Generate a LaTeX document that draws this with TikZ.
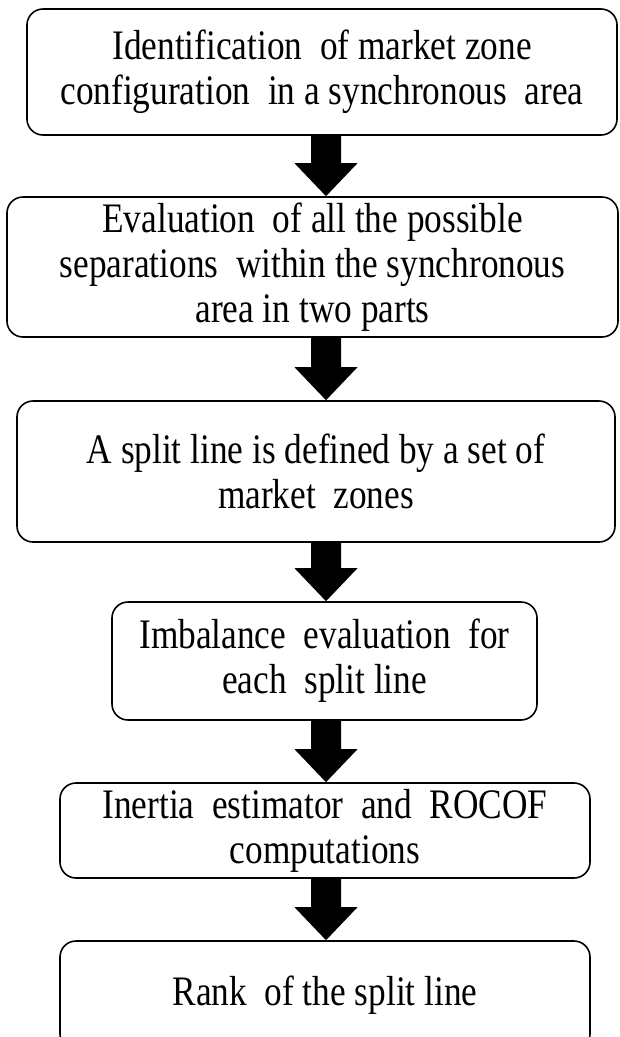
\documentclass[tikz,border=0pt]{standalone}
\usepackage{fontspec}
\setmainfont{Liberation Serif}[FakeStretch=0.84]
\newcommand\flowarrow[2]{%
  \fill ([xshift=-15pt]ax |- #1.south) -- ([xshift=15pt]ax |- #1.south)
    -- ([xshift=15pt,yshift=33pt]ax |- #2.north) -- ([xshift=31.5pt,yshift=33pt]ax |- #2.north)
    -- (ax |- #2.north)
    -- ([xshift=-31.5pt,yshift=33pt]ax |- #2.north) -- ([xshift=-15pt,yshift=33pt]ax |- #2.north) -- cycle;}
\begin{document}
\begin{tikzpicture}[x=1pt,y=-1pt,
  stepbox/.style={draw, line width=1.6pt, rounded corners=16pt, inner sep=0pt,
    align=center, font=\fontsize{42}{45}\selectfont}]
\useasboundingbox (0,0) rectangle (619,1037);
\clip (0,0) rectangle (619,1037);
\coordinate (ax) at (326,0);
\node[stepbox, minimum width=590pt, minimum height=126pt] (b1) at (322,72)
  {Identification\ \ of market zone\\configuration\ \ in a synchronous\ \ area};
\node[stepbox, minimum width=611pt, minimum height=140pt] (b2) at (312.5,267)
  {Evaluation\ \ of all the possible\\separations\ \ within the synchronous\\area in two parts};
\node[stepbox, minimum width=598pt, minimum height=141pt] (b3) at (316,471.5)
  {A split line is defined by a set of\\market\ \ zones};
\node[stepbox, minimum width=425pt, minimum height=118pt] (b4) at (324.5,661)
  {Imbalance\ \ evaluation\ \ for\\each\ \ split line};
\node[stepbox, minimum width=530pt, minimum height=95pt] (b5) at (325,830.5)
  {Inertia\ \ estimator\ \ and\ \ ROCOF\\computations};
\node[stepbox, minimum width=530pt, minimum height=109pt] (b6) at (325,995.5)
  {Rank\ \ of the split line};
\flowarrow{b1}{b2}
\flowarrow{b2}{b3}
\flowarrow{b3}{b4}
\flowarrow{b4}{b5}
\flowarrow{b5}{b6}
\end{tikzpicture}
\end{document}
